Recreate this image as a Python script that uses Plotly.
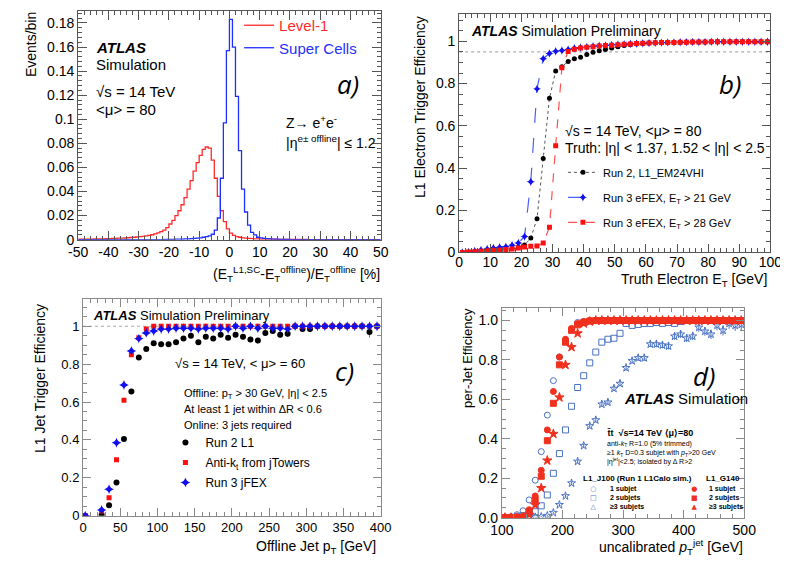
import plotly.graph_objects as go

FONT = "Liberation Sans, Arial, Helvetica, sans-serif"
W, H = 788, 563

# ---------------- Panel a: histograms ----------------
HIST_EDGES = list(range(-50, 51))
L1_VALUES = [
    0.0004, 0.0004, 0.0005, 0.0005, 0.0005, 0.0006, 0.0006, 0.0007, 0.0007, 0.0008,
    0.0009, 0.0010, 0.0011, 0.0012, 0.0013, 0.0014, 0.0016, 0.0018, 0.0020, 0.0022,
    0.0025, 0.0028, 0.0032, 0.0036, 0.0041, 0.0048, 0.0056, 0.0066, 0.0080, 0.0100,
    0.0130, 0.0160, 0.0200, 0.0240, 0.0290, 0.0350, 0.0420, 0.0490, 0.0570, 0.0640,
    0.0700, 0.0750, 0.0770, 0.0760, 0.0660, 0.0510, 0.0360, 0.0240, 0.0150, 0.0090,
    0.0055, 0.0035, 0.0026, 0.0020, 0.0015, 0.0012, 0.0010, 0.0008, 0.0007, 0.0006,
    0.0005, 0.0005, 0.0004, 0.0004, 0.0004, 0.0003, 0.0003, 0.0003, 0.0003, 0.0002,
    0.0002, 0.0002, 0.0002, 0.0002, 0.0002, 0.0002, 0.0001, 0.0001, 0.0001, 0.0001,
    0.0001, 0.0001, 0.0001, 0.0001, 0.0001, 0.0001, 0.0001, 0.0001, 0.0001, 0.0001,
    0.0001, 0.0001, 0.0001, 0.0001, 0.0001, 0.0001, 0.0001, 0.0001, 0.0001, 0.0001,
]
SC_VALUES = [
    0.0, 0.0, 0.0, 0.0, 0.0, 0.0, 0.0, 0.0, 0.0, 0.0,
    0.0, 0.0, 0.0, 0.0, 0.0, 0.0, 0.0, 0.0, 0.0, 0.0,
    0.0001, 0.0001, 0.0001, 0.0001, 0.0001, 0.0001, 0.0001, 0.0001, 0.0002, 0.0002,
    0.0003, 0.0003, 0.0004, 0.0004, 0.0005, 0.0006, 0.0007, 0.0008, 0.0010, 0.0012,
    0.0015, 0.0020, 0.0025, 0.0032, 0.0045, 0.0080, 0.0180, 0.0510, 0.0970, 0.1570,
    0.1830, 0.1600, 0.1190, 0.0740, 0.0420, 0.0230, 0.0120, 0.0060, 0.0040, 0.0020,
    0.0015, 0.0010, 0.0008, 0.0006, 0.0005, 0.0004, 0.0003, 0.0003, 0.0002, 0.0002,
    0.0001, 0.0001, 0.0001, 0.0001, 0.0001, 0.0, 0.0, 0.0, 0.0, 0.0,
    0.0, 0.0, 0.0, 0.0, 0.0, 0.0, 0.0, 0.0, 0.0, 0.0,
    0.0, 0.0, 0.0, 0.0, 0.0, 0.0, 0.0, 0.0, 0.0, 0.0,
]
A_XTICKS = [-50, -40, -30, -20, -10, 0, 10, 20, 30, 40, 50]
A_XTICK_LABELS = ["-50", "-40", "-30", "-20", "-10", "0", "10", "20", "30", "40", "50"]

# ---------------- Panel b: electron efficiency ----------------
B_ET = list(range(1, 100, 2))
B_RUN2 = [0.0, 0.0, 0.004, 0.007, 0.009, 0.011, 0.013, 0.016, 0.019, 0.025,
          0.035, 0.068, 0.16, 0.445, 0.73, 0.86, 0.88, 0.905, 0.918, 0.925,
          0.938, 0.948, 0.955, 0.962, 0.968, 0.975, 0.98, 0.984, 0.987, 0.99,
          0.992, 0.993, 0.994, 0.995, 0.996, 0.996, 0.997, 0.997, 0.997, 0.997,
          0.998, 0.998, 0.998, 0.998, 0.998, 0.998, 0.998, 0.998, 0.998, 0.998]
B_RUN3_21 = [0.0, 0.003, 0.007, 0.012, 0.017, 0.021, 0.025, 0.027, 0.034, 0.045,
             0.076, 0.335, 0.775, 0.918, 0.943, 0.953, 0.957, 0.962, 0.967, 0.971,
             0.974, 0.977, 0.979, 0.981, 0.983, 0.985, 0.987, 0.989, 0.99, 0.991,
             0.992, 0.993, 0.994, 0.995, 0.995, 0.996, 0.996, 0.997, 0.997, 0.997,
             0.998, 0.998, 0.998, 0.998, 0.998, 0.998, 0.998, 0.998, 0.998, 0.998]
B_RUN3_28 = [0.0, 0.002, 0.004, 0.006, 0.008, 0.010, 0.012, 0.014, 0.017, 0.021,
             0.026, 0.030, 0.031, 0.045, 0.12, 0.505, 0.875, 0.952, 0.963, 0.968,
             0.972, 0.975, 0.978, 0.98, 0.982, 0.984, 0.986, 0.988, 0.99, 0.991,
             0.992, 0.993, 0.994, 0.995, 0.995, 0.996, 0.996, 0.997, 0.997, 0.997,
             0.998, 0.998, 0.998, 0.998, 0.998, 0.998, 0.998, 0.998, 0.998, 0.998]
B_PLATEAU_REF = 0.95

# ---------------- Panel c: jet efficiency ----------------
C_PT = [3] + list(range(25, 400, 10))
C_RUN2 = [0.0, 0.005, 0.055, 0.175, 0.405, 0.655, 0.835, 0.88, 0.91, 0.905,
          0.905, 0.915, 0.935, 0.95, 0.915, 0.945, 0.935, 0.955, 0.94, 0.955,
          0.945, 0.93, 0.925, 0.965, 0.975, 0.955, 0.96, 1.0, 0.985, 0.985,
          1.0, 1.0, 1.0, 1.0, 1.0, 1.0, 1.0, 0.97, 1.0]
C_RUN2_ERR = [0.0, 0.003, 0.006, 0.01, 0.012, 0.012, 0.01, 0.01, 0.008, 0.008,
              0.009, 0.009, 0.01, 0.01, 0.012, 0.011, 0.012, 0.012, 0.013, 0.013,
              0.014, 0.015, 0.016, 0.014, 0.014, 0.016, 0.016, 0.01, 0.015, 0.015,
              0.005, 0.005, 0.005, 0.005, 0.005, 0.005, 0.005, 0.03, 0.005]
C_ANTIKT = [0.0, 0.025, 0.095, 0.295, 0.61, 0.85, 0.94, 0.985, 1.0, 1.0,
            1.0, 1.0, 1.0, 1.0, 1.0, 1.0, 1.0, 1.0, 1.0, 1.0,
            1.0, 1.0, 1.0, 1.0, 1.0, 1.0, 1.0, 1.0, 1.0, 1.0,
            1.0, 1.0, 1.0, 1.0, 1.0, 1.0, 1.0, 1.0, 1.0]
C_JFEX = [0.0, 0.03, 0.14, 0.385, 0.69, 0.87, 0.935, 0.965, 0.975, 0.985,
          0.985, 0.99, 0.99, 0.99, 0.985, 0.99, 0.99, 0.99, 0.985, 1.0,
          0.99, 1.0, 0.99, 1.0, 0.99, 0.99, 0.985, 1.0, 1.0, 1.0,
          1.0, 1.0, 1.0, 1.0, 1.0, 1.0, 1.0, 1.0, 1.0]
C_PLATEAU_REF = 1.0

# ---------------- Panel d: large-R jet efficiency ----------------
D_PT = list(range(105, 500, 10))
D_J100_1 = [0.0, 0.005, 0.015, 0.035, 0.09, 0.19, 0.335, 0.52, 0.695, 0.815,
            0.9, 0.955, 0.99, 0.995, 1.0, 1.0, 1.0, 1.0, 1.0, 1.0,
            1.0, 1.0, 1.0, 1.0, 1.0, 1.0, 1.0, 1.0, 1.0, 1.0,
            1.0, 1.0, 1.0, 1.0, 1.0, 1.0, 1.0, 1.0, 1.0, 1.0]
D_J100_2 = [0.0, 0.0, 0.005, 0.01, 0.02, 0.03, 0.06, 0.115, 0.225, 0.325,
            0.445, 0.565, 0.66, 0.72, 0.785, 0.84, 0.89, 0.905, 0.91, 0.935,
            0.985, 0.975, 0.98, 0.985, 0.985, 0.99, 0.985, 0.99, 0.985, 0.995,
            1.0, 1.0, 1.0, 1.0, 1.0, 1.0, 1.0, 1.0, 1.0, 1.0]
D_J100_3 = [0.0, 0.0, 0.0, 0.0, 0.0, 0.003, 0.005, 0.01, 0.025, 0.065,
            0.11, 0.175, 0.285, 0.365, 0.465, 0.495, 0.575, 0.585, 0.655, 0.68,
            0.76, 0.795, 0.81, 0.81, 0.88, 0.88, 0.875, 0.87, 0.92, 0.93,
            0.91, 0.92, 0.965, 0.945, 0.93, 0.975, 0.95, 0.985, 0.975, 0.98]
D_J100_3_ERR = [0.0, 0.0, 0.0, 0.0, 0.0, 0.002, 0.003, 0.004, 0.005, 0.007,
                0.008, 0.009, 0.01, 0.011, 0.012, 0.012, 0.013, 0.013, 0.013, 0.014,
                0.014, 0.014, 0.015, 0.015, 0.015, 0.016, 0.016, 0.017, 0.018, 0.018,
                0.02, 0.02, 0.022, 0.022, 0.024, 0.025, 0.026, 0.027, 0.028, 0.03]
D_G140_1 = [0.0, 0.0, 0.0, 0.005, 0.04, 0.11, 0.24, 0.445, 0.64, 0.815,
            0.905, 0.96, 0.985, 0.995, 1.0, 1.0, 1.0, 1.0, 1.0, 1.0,
            1.0, 1.0, 1.0, 1.0, 1.0, 1.0, 1.0, 1.0, 1.0, 1.0,
            1.0, 1.0, 1.0, 1.0, 1.0, 1.0, 1.0, 1.0, 1.0, 1.0]
D_G140_2 = [0.0, 0.0, 0.0, 0.003, 0.03, 0.09, 0.21, 0.39, 0.58, 0.775,
            0.89, 0.95, 0.978, 0.99, 0.997, 1.0, 1.0, 1.0, 1.0, 1.0,
            1.0, 1.0, 1.0, 1.0, 1.0, 1.0, 1.0, 1.0, 1.0, 1.0,
            1.0, 1.0, 1.0, 1.0, 1.0, 1.0, 1.0, 1.0, 1.0, 1.0]
D_G140_3 = [0.0, 0.0, 0.0, 0.002, 0.015, 0.065, 0.15, 0.29, 0.425, 0.61,
            0.775, 0.865, 0.935, 0.985, 0.995, 1.0, 1.0, 1.0, 1.0, 1.0,
            1.0, 1.0, 1.0, 1.0, 1.0, 1.0, 1.0, 1.0, 1.0, 1.0,
            1.0, 1.0, 1.0, 1.0, 1.0, 1.0, 1.0, 1.0, 1.0, 1.0]
D_LEG_LABELS = ["1 subjet", "2 subjets", "≥3 subjets"]

RED = "#ff2a2a"
BLUE = "#1f2fff"
DRED = "#f0301e"
DBLUE = "#4a72c4"


def px_x(x):
    return x / W


def px_y(y):
    return 1 - y / H


fig = go.Figure()

# Panel a
fig.add_trace(go.Scatter(x=HIST_EDGES, y=L1_VALUES + [L1_VALUES[-1]], mode="lines",
                         line=dict(color=RED, width=1.3, shape="hv"),
                         name="<span style='color:#ff2a2a'>Level-1</span>",
                         xaxis="x", yaxis="y", legend="legend"))
fig.add_trace(go.Scatter(x=HIST_EDGES, y=SC_VALUES + [SC_VALUES[-1]], mode="lines",
                         line=dict(color=BLUE, width=1.3, shape="hv"),
                         name="<span style='color:#1f2fff'>Super Cells</span>",
                         xaxis="x", yaxis="y", legend="legend"))

# Panel b
fig.add_trace(go.Scatter(x=B_ET, y=B_RUN2, mode="lines+markers",
                         line=dict(color="#555555", width=1, dash="dot"),
                         marker=dict(color="black", size=5, symbol="circle"),
                         name="Run 2, L1_EM24VHI", legendgroup="b1",
                         xaxis="x2", yaxis="y2", legend="legend2"))
fig.add_trace(go.Scatter(x=B_ET, y=B_RUN3_21, mode="lines+markers",
                         line=dict(color="#4a60ff", width=1.2, dash="longdash"),
                         marker=dict(color="#1010ee", size=6, symbol="star-diamond"),
                         name="Run 3 eFEX, E<sub>T</sub> > 21 GeV", legendgroup="b2",
                         xaxis="x2", yaxis="y2", legend="legend2"))
fig.add_trace(go.Scatter(x=B_ET, y=B_RUN3_28, mode="lines+markers",
                         line=dict(color="#ff5050", width=1.2, dash="dash"),
                         marker=dict(color="#ff1010", size=5, symbol="square"),
                         name="Run 3 eFEX, E<sub>T</sub> > 28 GeV", legendgroup="b3",
                         xaxis="x2", yaxis="y2", legend="legend2"))

# Panel c
fig.add_trace(go.Scatter(x=C_PT, y=C_RUN2, mode="markers",
                         marker=dict(color="black", size=6, symbol="circle"),
                         error_y=dict(type="data", array=C_RUN2_ERR, color="#777777",
                                      thickness=1, width=0),
                         name="Run 2 L1", legendgroup="c1",
                         xaxis="x3", yaxis="y3", legend="legend3"))
fig.add_trace(go.Scatter(x=C_PT, y=C_ANTIKT, mode="markers",
                         marker=dict(color="#ff1010", size=5, symbol="square"),
                         name="Anti-k<sub>t</sub> from jTowers", legendgroup="c2",
                         xaxis="x3", yaxis="y3", legend="legend3"))
fig.add_trace(go.Scatter(x=C_PT, y=C_JFEX, mode="markers",
                         marker=dict(color="#1010ee", size=7, symbol="star-diamond"),
                         name="Run 3 jFEX", legendgroup="c3",
                         xaxis="x3", yaxis="y3", legend="legend3"))

# Panel d
d_series = [
    (D_J100_1, "circle-open", DBLUE, None, 6),
    (D_J100_2, "square-open", DBLUE, None, 6),
    (D_J100_3, "star-open", DBLUE, D_J100_3_ERR, 6),
    (D_G140_1, "circle", DRED, None, 6),
    (D_G140_2, "square", DRED, None, 6),
    (D_G140_3, "star", DRED, None, 7),
]
for vals, sym, col, err, sz in d_series:
    kw = {}
    if err is not None:
        kw["error_y"] = dict(type="data", array=err, color=col, thickness=1, width=0)
    fig.add_trace(go.Scatter(x=D_PT, y=vals, mode="markers",
                             marker=dict(color=col, size=sz, symbol=sym,
                                         line=dict(color=col, width=1)),
                             showlegend=False, xaxis="x4", yaxis="y4", **kw))


def axis(domain, rng, dtick, mdtick, color, anchor, size=14, ticklen=9, **extra):
    d = dict(domain=domain, range=rng, anchor=anchor, dtick=dtick,
             showline=True, mirror="allticks", linecolor=color, linewidth=1,
             ticks="inside", ticklen=ticklen, tickcolor=color, tickwidth=1,
             showgrid=False, zeroline=False,
             tickfont=dict(size=size, family=FONT, color="black"),
             minor=dict(ticks="inside", ticklen=ticklen // 2, tickcolor=color,
                        dtick=mdtick, showgrid=False))
    d.update(extra)
    return d


FA = "#555555"
FC = "#8a8a8a"

layout = dict(
    width=W, height=H, margin=dict(l=0, r=0, t=0, b=0),
    paper_bgcolor="white", plot_bgcolor="white",
    font=dict(family=FONT, color="black"),
    xaxis=axis([px_x(60), px_x(372)], [-50, 50], 10, 2, FA, "y",
               tickvals=A_XTICKS, ticktext=A_XTICK_LABELS),
    yaxis=axis([px_y(235), px_y(3)], [0, 0.19], 0.02, 0.004, FA, "x"),
    xaxis2=axis([px_x(453), px_x(774)], [0, 100], 10, 2, FA, "y2", size=14, ticklen=8,
                ticklabelstandoff=-3),
    yaxis2=axis([px_y(248), px_y(6)], [0, 1.13], 0.2, 0.05, FA, "x2", size=14, ticklen=8),
    xaxis3=axis([px_x(65), px_x(372)], [0, 400], 50, 10, FC, "y3", size=13, ticklen=8),
    yaxis3=axis([px_y(515), px_y(295)], [0, 1.145], 0.2, 0.05, FC, "x3", size=13, ticklen=8),
    xaxis4=axis([px_x(497), px_x(747)], [100, 500], 100, 20, FC, "y4", size=14, ticklen=8),
    yaxis4=axis([px_y(517), px_y(304)], [0, 1.065], 0.2, 0.05, FC, "x4", size=14, ticklen=8,
                tickformat=".1f"),
    legend=dict(x=px_x(226), y=px_y(1), xanchor="left", yanchor="top",
                bgcolor="rgba(0,0,0,0)", font=dict(size=15, family=FONT),
                itemwidth=30, tracegroupgap=0),
    legend2=dict(x=px_x(560), y=px_y(152), xanchor="left", yanchor="top",
                 bgcolor="rgba(0,0,0,0)", font=dict(size=11, family=FONT),
                 itemwidth=30, tracegroupgap=6, traceorder="grouped"),
    legend3=dict(x=px_x(150), y=px_y(426), xanchor="left", yanchor="top",
                 bgcolor="rgba(0,0,0,0)", font=dict(size=12, family=FONT),
                 itemwidth=30, tracegroupgap=1, traceorder="grouped"),
    showlegend=True,
)
fig.update_layout(**layout)

fig.add_shape(type="line", xref="x2 domain", x0=0, x1=1, yref="y2",
              y0=B_PLATEAU_REF, y1=B_PLATEAU_REF,
              line=dict(color="#999999", width=1, dash="dot"), layer="below")
fig.add_shape(type="line", xref="x3 domain", x0=0, x1=1, yref="y3",
              y0=C_PLATEAU_REF, y1=C_PLATEAU_REF,
              line=dict(color="#aaaaaa", width=1, dash="dot"), layer="below")


def ann(text, x, y, size=14, xanchor="left", yanchor="middle", color="black",
        angle=0, family=FONT, align="left"):
    fig.add_annotation(text=text, x=px_x(x), y=px_y(y), xref="paper", yref="paper",
                       xanchor=xanchor, yanchor=yanchor, showarrow=False, align=align,
                       textangle=angle, font=dict(size=size, color=color, family=family))


ITAL = "Open Sans, Liberation Sans, sans-serif"

# Panel a texts
ann("Events/bin", 12, 37, 14, "center", angle=-90)
ann("(E<sub>T</sub><sup>L1,SC</sup>-E<sub>T</sub><sup>offline</sup>)/E<sub>T</sub><sup>offline</sup> [%]",
    373, 270, 14, "right")
ann("<b><i>ATLAS</i></b>", 76, 40, 15)
ann("Simulation", 76, 57, 15)
ann("√s = 14 TeV", 76, 85, 15)
ann("<μ> = 80", 76, 103, 15)
ann("<i>a)</i>", 338, 77, 26, "center", family=ITAL)
ann("Z→ e<sup>+</sup>e<sup>-</sup>", 272, 116, 14)
ann("|η<sup>e± offline</sup>| ≤ 1.2", 272, 136, 14)

# Panel b texts
ann("L1 Electron Trigger Efficiency", 412, 100, 14, "center", angle=-90)
ann("Truth Electron E<sub>T</sub> [GeV]", 773, 276, 14, "right")
ann("<b><i>ATLAS</i></b> Simulation Preliminary", 463, 23, 14)
ann("<i>b)</i>", 732, 77, 26, "center", family=ITAL)
ann("√s = 14 TeV, <μ> = 80", 560, 125, 14)
ann("Truth: |η| < 1.37, 1.52 < |η| < 2.5", 560, 142, 14)

# Panel c texts
ann("L1 Jet Trigger Efficiency", 20, 376, 14, "center", angle=-90)
ann("Offline Jet p<sub>T</sub> [GeV]", 369, 547, 14, "right")
ann("<b><i>ATLAS</i></b> Simulation Preliminary", 73, 312, 13)
ann("√s = 14 TeV, < μ> = 60", 158, 361, 13)
ann("<i>c)</i>", 335, 368, 26, "center", family=ITAL)
ann("Offline: p<sub>T</sub> > 30 GeV, |η| < 2.5", 167, 392, 11)
ann("At least 1 jet within ΔR < 0.6", 167, 407, 11)
ann("Online: 3 jets required", 167, 423, 11)

# Panel d texts
ann("per-Jet Efficiency", 462, 355, 13, "center", angle=-90)
ann("uncalibrated <i>p</i><sub>T</sub><sup>jet</sup> [GeV]", 748, 547, 14, "right")
ann("<i>d)</i>", 705, 373, 26, "center", family=ITAL)
ann("<b><i>ATLAS</i></b> Simulation", 621, 396, 15)
ann("<b>t̄t  √s=14 TeV ⟨μ⟩=80</b>", 603, 431, 9)
ann("anti-<i>k</i><sub>T</sub> R=1.0 (5% trimmed)<br>"
    "≥1 <i>k</i><sub>T</sub> D=0.3 subjet with <i>p</i><sub>T</sub>>20 GeV<br>"
    "|η<sup>jet</sup>|<2.5; isolated by Δ R>2", 603, 436, 7, yanchor="top")
ann("<b>L1_J100 (Run 1 L1Calo sim.)</b>", 579, 477, 8)
ann("<b>L1_G140</b>", 706, 477, 8)
ann("<br>".join(["○", "□", "△"]), 591, 482, 7, "center", "top",
    color=DBLUE, family="DejaVu Sans", align="center")
ann("<br>".join(["●", "■", "▲"]), 696, 482, 7, "center", "top",
    color=DRED, family="DejaVu Sans", align="center")
ann("<b>" + "<br>".join(D_LEG_LABELS) + "</b>", 606, 482, 7, yanchor="top")
ann("<b>" + "<br>".join(D_LEG_LABELS) + "</b>", 709, 482, 7, yanchor="top")

fig.write_html("out.html")
